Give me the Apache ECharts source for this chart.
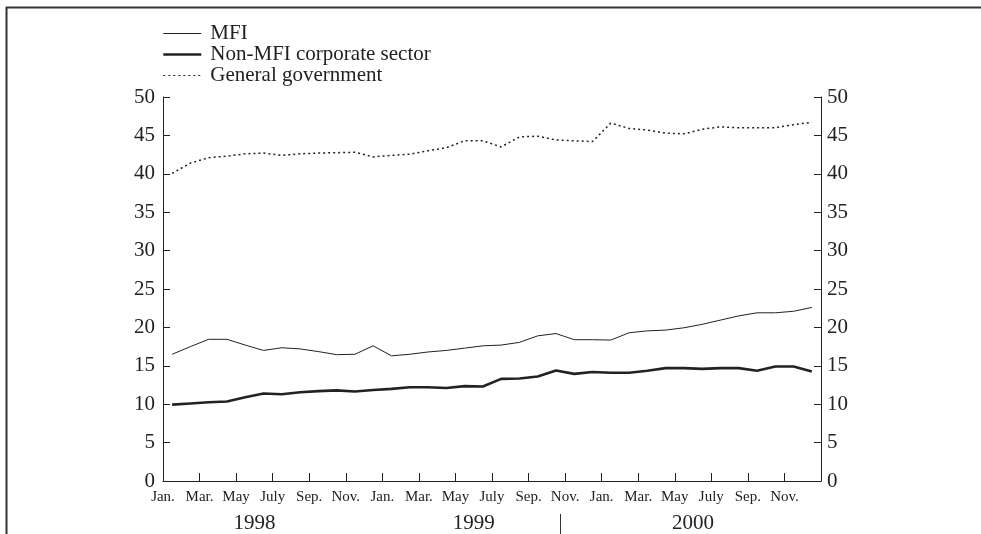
<!DOCTYPE html>
<html>
<head>
<meta charset="utf-8">
<script src="https://cdn.jsdelivr.net/npm/echarts@6/dist/echarts.min.js"></script>
<style>
html, body { margin: 0; padding: 0; background: #fff; }
#chart { width: 981px; height: 534px; }
</style>
</head>
<body>
<div id="chart"></div>
<script>
// month labels on every second tick, year labels under them
var monthLabels = ['Jan.', '', 'Mar.', '', 'May', '', 'July', '', 'Sep.', '', 'Nov.', ''];
var yearLabels = ['1998', '1999', '2000'];

// monthly values, Jan. 1998 - Dec. 2000
var mfi = [16.5, 17.5, 18.45, 18.45, 17.7, 17.0, 17.35, 17.2, 16.85, 16.45, 16.5, 17.6,
    16.3, 16.5, 16.8, 17.0, 17.3, 17.6, 17.7, 18.05, 18.9, 19.2, 18.4, 18.4,
    18.35, 19.3, 19.55, 19.65, 19.95, 20.4, 20.95, 21.5, 21.9, 21.9, 22.1, 22.6];
var nonMfi = [9.95, 10.1, 10.25, 10.35, 10.9, 11.4, 11.3, 11.55, 11.7, 11.8, 11.65, 11.85,
    12.0, 12.2, 12.2, 12.1, 12.35, 12.3, 13.3, 13.35, 13.6, 14.4, 13.95, 14.2,
    14.1, 14.1, 14.35, 14.7, 14.7, 14.6, 14.7, 14.7, 14.35, 14.9, 14.9, 14.25];
var genGov = [40.05, 41.4, 42.1, 42.3, 42.6, 42.7, 42.4, 42.6, 42.7, 42.75, 42.8, 42.2,
    42.4, 42.55, 43.0, 43.4, 44.3, 44.3, 43.5, 44.8, 44.9, 44.4, 44.3, 44.2,
    46.6, 45.9, 45.7, 45.3, 45.2, 45.8, 46.1, 46.0, 46.0, 46.0, 46.4, 46.7];

function pts(arr) {
    return arr.map(function (v, i) { return [i + 0.5, v]; });
}

var yearCats = [];
for (var k = 0; k <= 36; k++) {
    yearCats.push(k % 12 === 5 ? yearLabels[Math.floor(k / 12)] : '');
}

var ink = '#222';
var serif = 'Liberation Serif';

var chart = echarts.init(document.getElementById('chart'));
var option = {
    animation: false,
    backgroundColor: '#fff',
    textStyle: { fontFamily: serif, color: ink },
    legend: {
        orient: 'vertical',
        left: 162,
        top: 23,
        padding: 0,
        itemWidth: 38,
        itemHeight: 14,
        itemGap: 0,
        itemStyle: { opacity: 0 },
        textStyle: { fontFamily: serif, fontSize: 21, lineHeight: 19, color: ink, padding: [0, 0, 0, 4] },
        data: [
            { name: 'MFI', lineStyle: { width: 1 } },
            { name: 'Non-MFI corporate sector', lineStyle: { width: 2.6 } },
            { name: 'General government', lineStyle: { width: 1.2 } }
        ]
    },
    grid: { left: 163, right: 160, top: 97, bottom: 53, outerBoundsMode: 'none' },
    xAxis: [
        {
            type: 'value',
            min: 0,
            max: 36,
            interval: 2,
            splitLine: { show: false },
            axisLine: { lineStyle: { color: ink, width: 1 } },
            axisTick: { inside: true, length: 8, lineStyle: { color: ink } },
            axisLabel: {
                margin: 9,
                fontSize: 15,
                fontFamily: serif,
                color: ink,
                formatter: function (v) { return v >= 36 ? '' : monthLabels[v % 12]; }
            }
        },
        {
            type: 'category',
            position: 'bottom',
            boundaryGap: false,
            data: yearCats,
            offset: 24,
            axisLine: { show: false },
            axisTick: { show: false },
            axisLabel: { interval: 0, fontSize: 21, fontFamily: serif, color: ink }
        }
    ],
    yAxis: [
        {
            type: 'value',
            position: 'left',
            min: 0,
            max: 50,
            interval: 5,
            splitLine: { show: false },
            axisLine: { show: true, lineStyle: { color: ink, width: 1 } },
            axisTick: { show: true, inside: true, length: 7, lineStyle: { color: ink } },
            axisLabel: { margin: 8, fontSize: 21, fontFamily: serif, color: ink }
        },
        {
            type: 'value',
            position: 'right',
            min: 0,
            max: 50,
            interval: 5,
            splitLine: { show: false },
            axisLine: { show: true, lineStyle: { color: ink, width: 1 } },
            axisTick: { show: true, inside: true, length: 7, lineStyle: { color: ink } },
            axisLabel: { margin: 6, fontSize: 21, fontFamily: serif, color: ink }
        }
    ],
    series: [
        {
            name: 'MFI',
            type: 'line',
            symbol: 'none',
            data: pts(mfi),
            color: ink,
            lineStyle: { color: ink, width: 1 }
        },
        {
            name: 'Non-MFI corporate sector',
            type: 'line',
            symbol: 'none',
            data: pts(nonMfi),
            color: ink,
            lineStyle: { color: ink, width: 2.6 }
        },
        {
            name: 'General government',
            type: 'line',
            symbol: 'none',
            data: pts(genGov),
            color: ink,
            lineStyle: { color: ink, width: 1.5, type: [2, 3] }
        }
    ],
    graphic: [
        { type: 'line', shape: { x1: 6, y1: 7.5, x2: 981, y2: 7.5 }, style: { stroke: '#333', lineWidth: 2 } },
        { type: 'line', shape: { x1: 6.5, y1: 7, x2: 6.5, y2: 534 }, style: { stroke: '#333', lineWidth: 2 } },
        { type: 'line', shape: { x1: 560.5, y1: 514, x2: 560.5, y2: 534 }, style: { stroke: '#333', lineWidth: 1 } }
    ]
};
chart.setOption(option);
</script>
</body>
</html>
